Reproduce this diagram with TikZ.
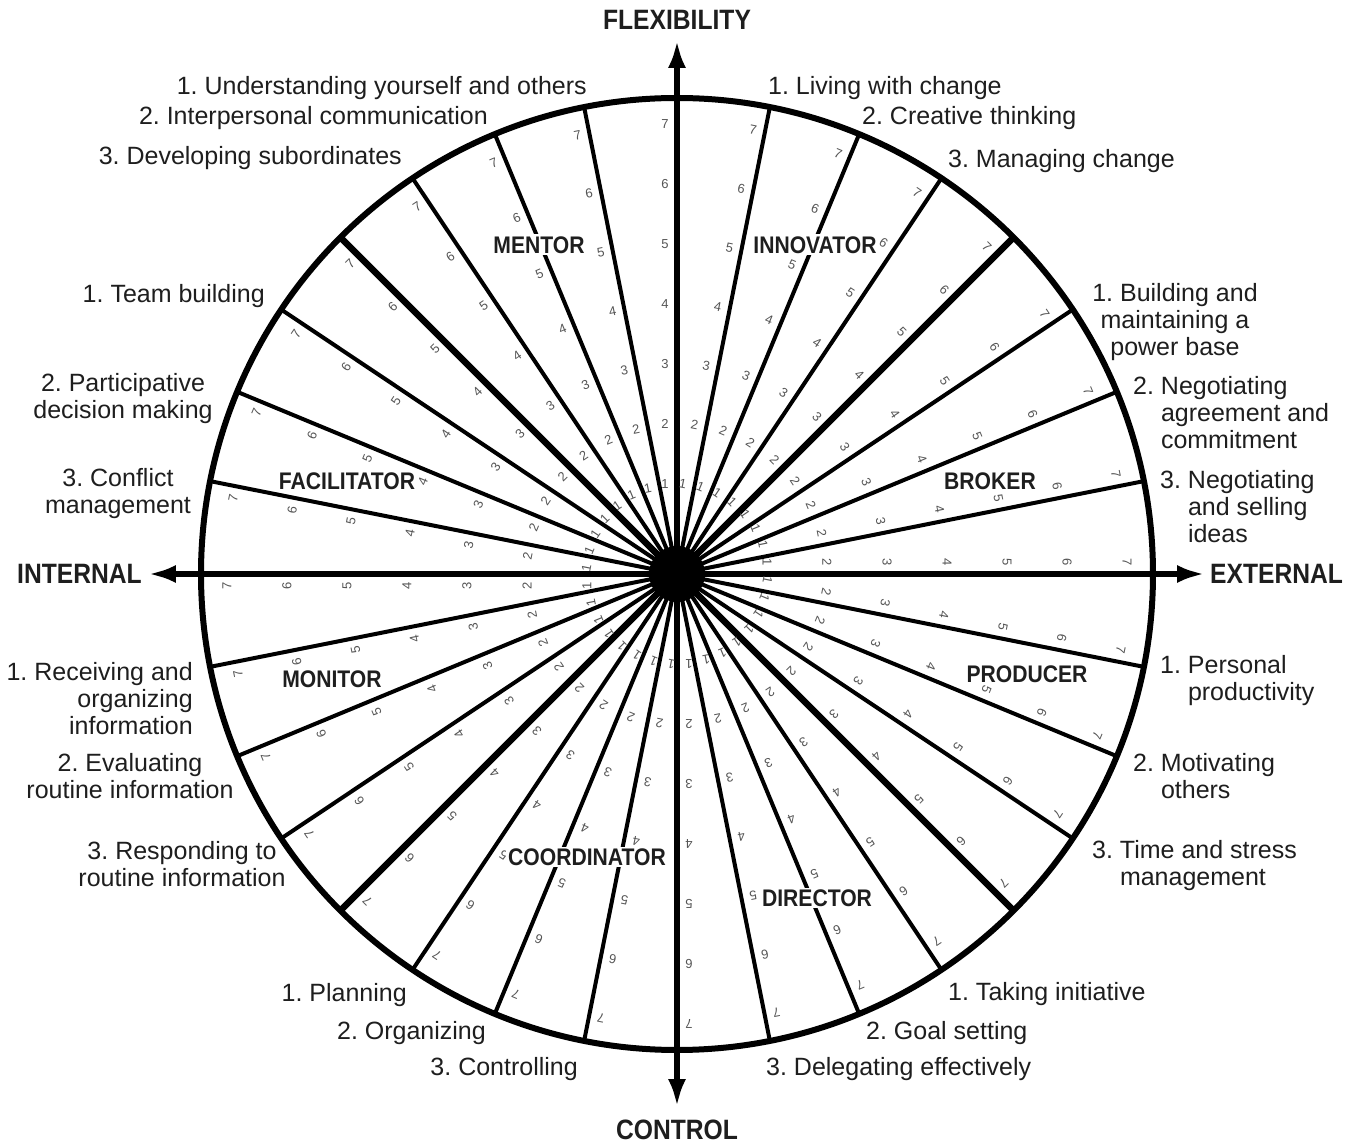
\documentclass[tikz,border=0pt]{standalone}
\usepackage{fontspec}
\setmainfont{Liberation Sans}
\newfontfamily\condfont[FakeStretch=0.88]{Liberation Sans}
\usetikzlibrary{arrows.meta,positioning}
\definecolor{numgray}{RGB}{85,85,85}
\definecolor{inkgray}{RGB}{30,30,30}
\newcommand{\wheelcomp}{\fontsize{25}{27}\selectfont}
\newcommand{\wheelrole}{\condfont\bfseries\fontsize{24}{26}\selectfont}
\newcommand{\wheelpole}{\condfont\bfseries\fontsize{28}{30}\selectfont}
\newcommand{\wheeltick}{\fontsize{13}{13}\selectfont}
\frenchspacing

\begin{document}
\begin{tikzpicture}[x=1pt,y=1pt,
    spoke/.style={line width=4pt},
    rolesep/.style={line width=6.5pt},
    rim/.style={line width=6pt},
    axis/.style={line width=6pt,{Latex[length=28pt,width=18pt]}-{Latex[length=28pt,width=18pt]}},
    tick/.style={font=\wheeltick,text=numgray,inner sep=0pt},
    comp/.style={font=\wheelcomp,text=inkgray,inner sep=0pt},
    role/.style={font=\wheelrole,text=inkgray,fill=white,inner sep=2pt},
    pole/.style={font=\wheelpole,text=inkgray,inner sep=0pt}
  ]
  \fill[white] (-677,-573) rectangle (682,574);
  \coordinate (hub) at (0,0);

  % scale spokes
  \foreach \k [evaluate=\k as \a using \k*11.25] in {1,2,3,5,6,7,9,10,11,13,14,15,17,18,19,21,22,23,25,26,27,29,30,31}{
    \coordinate (s\k) at (\a:476);
    \draw[spoke] (hub) -- (s\k);
  }
  \foreach \k [evaluate=\k as \a using \k*11.25] in {4,12,20,28}{
    \coordinate (s\k) at (\a:476);
    \draw[rolesep] (hub) -- (s\k);
  }
  \draw[rim] (hub) circle (476);

  % axes
  \coordinate (flex) at (0,534);
  \coordinate (ctrl) at (0,-533);
  \coordinate (intl) at (-529,0);
  \coordinate (extl) at (528,0);
  \draw[axis] (ctrl) -- (flex);
  \draw[axis] (intl) -- (extl);
  \node[circle,fill=black,minimum size=56pt,inner sep=0pt] (hubdisk) at (hub) {};

  % numbers 1..7 on every spoke
  \foreach \k [evaluate=\k as \a using \k*11.25] in {0,...,31}{
    \foreach \n in {1,...,7}{
      \node[tick,rotate=\a-90] (t\k-\n) at ([shift={(\a+90:12)}]\a:{30+60*\n}) {\n};
    }
  }

  \node[pole,above=10pt of flex] (flexlbl) {FLEXIBILITY};
  \node[pole,below=13pt of ctrl] (ctrllbl) {CONTROL};
  \node[pole,left=6pt of intl] (intllbl) {INTERNAL};
  \node[pole,right=5pt of extl] (extllbl) {EXTERNAL};

  \node[role] (mentor) at (-138,329) {MENTOR};
  \node[role] (innovator) at (138,329) {INNOVATOR};
  \node[role] (facilitator) at (-330,93) {FACILITATOR};
  \node[role] (broker) at (313,93) {BROKER};
  \node[role] (monitor) at (-345,-105) {MONITOR};
  \node[role] (producer) at (350,-100) {PRODUCER};
  \node[role] (coordinator) at (-90,-283) {COORDINATOR};
  \node[role] (director) at (140,-324) {DIRECTOR};

  % competencies
  \node[comp,anchor=base east] (mt1) at (-90,479) {1. Understanding yourself and others};
  \node[comp,anchor=base east] (mt2) at (-189,449) {2. Interpersonal communication};
  \node[comp,anchor=base east] (mt3) at (-275,409) {3. Developing subordinates};
  \node[comp,anchor=base east] (fc1) at (-412,271) {1. Team building};
  \node[comp,align=center] (fc2) at (-554,175) {2. Participative\\decision making};
  \node[comp,align=center] (fc3) at (-559,80) {3. Conflict\\management};
  \node[comp,anchor=east,align=right] (mo1) at (-484,-125) {1. Receiving and\\organizing\\information};
  \node[comp,align=center] (mo2) at (-547,-202) {2. Evaluating\\routine information};
  \node[comp,align=center] (mo3) at (-495,-290) {3. Responding to\\routine information};
  \node[comp,anchor=base east] (co1) at (-270,-427) {1. Planning};
  \node[comp,anchor=base east] (co2) at (-191,-465) {2. Organizing};
  \node[comp,anchor=base east] (co3) at (-99,-501) {3. Controlling};
  \node[comp,anchor=base west] (di1) at (271,-426) {1. Taking initiative};
  \node[comp,anchor=base west] (di2) at (189,-465) {2. Goal setting};
  \node[comp,anchor=base west] (di3) at (89,-501) {3. Delegating effectively};
  \node[comp,anchor=west,align=left] (pr1) at (483,-107) {1. Personal\\\phantom{1. }productivity};
  \node[comp,anchor=west,align=left] (pr2) at (456,-202) {2. Motivating\\\phantom{2. }others};
  \node[comp,anchor=west,align=left] (pr3) at (415,-292) {3. Time and stress\\\phantom{3. }management};
  \node[comp,anchor=west,align=left] (br3) at (483,67) {3. Negotiating\\\phantom{3. }and selling\\\phantom{3. }ideas};
  \node[comp,anchor=west,align=left] (br2) at (456,161) {2. Negotiating\\\phantom{2. }agreement and\\\phantom{2. }commitment};
  \node[comp,align=center] (br1) at (498,252) {1. Building and\\maintaining a\\power base};
  \node[comp,anchor=base west] (in1) at (91,479) {1. Living with change};
  \node[comp,anchor=base west] (in2) at (185,449) {2. Creative thinking};
  \node[comp,anchor=base west] (in3) at (271,406) {3. Managing change};
\end{tikzpicture}
\end{document}
